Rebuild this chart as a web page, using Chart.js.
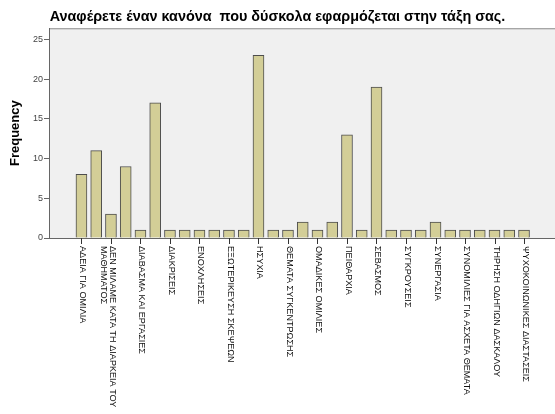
<!DOCTYPE html>
<html>
<head>
<meta charset="utf-8">
<script src="https://cdn.jsdelivr.net/npm/chart.js@4.4.1/dist/chart.umd.min.js"></script>
<style>
  html, body { margin: 0; padding: 0; background: #fff; overflow: hidden; }
  #wrap { position: relative; width: 555px; height: 414px; }
</style>
</head>
<body>
<div id="wrap"><canvas id="freqChart"></canvas></div>
<script>
// Chart data (SPSS bar chart, only every other category is labelled)
const chartTitle = 'Αναφέρετε έναν κανόνα  που δύσκολα εφαρμόζεται στην τάξη σας.';
const yTitle = 'Frequency';

const categories = [
    ['ΑΔΕΙΑ ΓΙΑ ΟΜΙΛΙΑ'], [],
    ['ΔΕΝ ΜΙΛΑΜΕ ΚΑΤΑ ΤΗ ΔΙΑΡΚΕΙΑ ΤΟΥ', 'ΜΑΘΗΜΑΤΟΣ'], [],
    ['ΔΙΑΒΑΣΜΑ ΚΑΙ ΕΡΓΑΣΙΕΣ'], [],
    ['ΔΙΑΚΡΙΣΕΙΣ'], [],
    ['ΕΝΟΧΛΗΣΕΙΣ'], [],
    ['ΕΞΩΤΕΡΙΚΕΥΣΗ ΣΚΕΨΕΩΝ'], [],
    ['ΗΣΥΧΙΑ'], [],
    ['ΘΕΜΑΤΑ ΣΥΓΚΕΝΤΡΩΣΗΣ'], [],
    ['ΟΜΑΔΙΚΕΣ ΟΜΙΛΙΕΣ'], [],
    ['ΠΕΙΘΑΡΧΙΑ'], [],
    ['ΣΕΒΑΣΜΟΣ'], [],
    ['ΣΥΓΚΡΟΥΣΕΙΣ'], [],
    ['ΣΥΝΕΡΓΑΣΙΑ'], [],
    ['ΣΥΝΟΜΙΛΙΕΣ ΓΙΑ ΑΣΧΕΤΑ ΘΕΜΑΤΑ'], [],
    ['ΤΗΡΗΣΗ ΟΔΗΓΙΩΝ ΔΑΣΚΑΛΟΥ'], [],
    ['ΨΥΧΟΚΟΙΝΩΝΙΚΕΣ ΔΙΑΣΤΑΣΕΙΣ']
];

const frequencies = [8, 11, 3, 9, 1, 17, 1, 1, 1, 1, 1, 1, 23, 1, 1, 2,
                     1, 2, 13, 1, 19, 1, 1, 1, 2, 1, 1, 1, 1, 1, 1];

const yTicks = [0, 5, 10, 15, 20, 25];

// Plot frame, x axis line, tick marks and the rotated category labels
const spssFrame = {
    id: 'spssFrame',
    beforeDraw(chart) {
        const {ctx, chartArea: a} = chart;
        ctx.save();
        ctx.fillStyle = '#f0f0f0';
        ctx.fillRect(a.left, a.top, a.right - a.left, a.bottom - a.top);
        ctx.strokeStyle = '#8a8a8a';
        ctx.lineWidth = 1;
        ctx.beginPath();
        ctx.moveTo(a.left, a.top + 0.5);
        ctx.lineTo(a.right, a.top + 0.5);
        ctx.stroke();
        ctx.restore();
    },
    beforeDatasetsDraw(chart) {
        const {ctx, chartArea: a} = chart;
        ctx.save();
        ctx.strokeStyle = '#666';
        ctx.lineWidth = 1;
        ctx.beginPath();
        ctx.moveTo(a.left, a.bottom + 0.5);
        ctx.lineTo(a.right, a.bottom + 0.5);
        ctx.stroke();
        ctx.restore();
    },
    afterDraw(chart) {
        const {ctx, chartArea: a} = chart;
        const xs = chart.scales.x;
        ctx.save();
        ctx.strokeStyle = '#333';
        ctx.fillStyle = '#111';
        ctx.lineWidth = 1;
        ctx.font = '9.1px "Liberation Sans", Arial, sans-serif';
        ctx.textAlign = 'left';
        ctx.textBaseline = 'middle';
        categories.forEach((lines, i) => {
            if (!lines.length) return;
            const x = Math.round(xs.getPixelForValue(i)) + 0.5;
            ctx.beginPath();
            ctx.moveTo(x, a.bottom);
            ctx.lineTo(x, a.bottom + 6);
            ctx.stroke();
            lines.forEach((line, j) => {
                ctx.save();
                ctx.translate(x + 1 - j * 9, a.bottom + 8);
                ctx.rotate(Math.PI / 2);
                ctx.fillText(line, 0, 0);
                ctx.restore();
            });
        });
        ctx.restore();
    }
};

const ctx = document.getElementById('freqChart').getContext('2d');
new Chart(ctx, {
    type: 'bar',
    data: {
        datasets: [{
            label: 'Frequency',
            data: frequencies.map((v, i) => ({x: i, y: v})),
            backgroundColor: '#d3ce97',
            borderColor: '#4d4d4d',
            borderWidth: 1,
            barThickness: 11
        }]
    },
    options: {
        responsive: true,
        maintainAspectRatio: false,
        animation: false,
        layout: {
            padding: {left: 0, right: 0, top: 0, bottom: 176}
        },
        plugins: {
            legend: {display: false},
            tooltip: {
                callbacks: {
                    title: items => categories[items[0].raw.x].join(' ')
                }
            },
            title: {
                display: true,
                text: chartTitle,
                color: '#000',
                font: {family: '"Liberation Sans", Arial, sans-serif', size: 14.4, weight: 'bold'},
                padding: {top: 8, bottom: 3}
            }
        },
        scales: {
            x: {
                type: 'linear',
                display: false,
                offset: false,
                grid: {offset: false},
                min: -2.2,
                max: 32.1
            },
            y: {
                min: 0,
                max: 26.4,
                afterFit(scale) { scale.width = 49; },
                afterBuildTicks(scale) { scale.ticks = yTicks.map(v => ({value: v})); },
                border: {display: true, color: '#666', width: 1},
                grid: {drawOnChartArea: false, tickLength: 5, color: '#666'},
                ticks: {
                    color: '#444',
                    padding: 1,
                    font: {family: '"Liberation Sans", Arial, sans-serif', size: 9}
                },
                title: {
                    display: true,
                    text: yTitle,
                    color: '#000',
                    font: {family: '"Liberation Sans", Arial, sans-serif', size: 13, weight: 'bold'},
                    padding: {top: 8, bottom: 0}
                }
            }
        }
    },
    plugins: [spssFrame]
});
</script>
</body>
</html>
